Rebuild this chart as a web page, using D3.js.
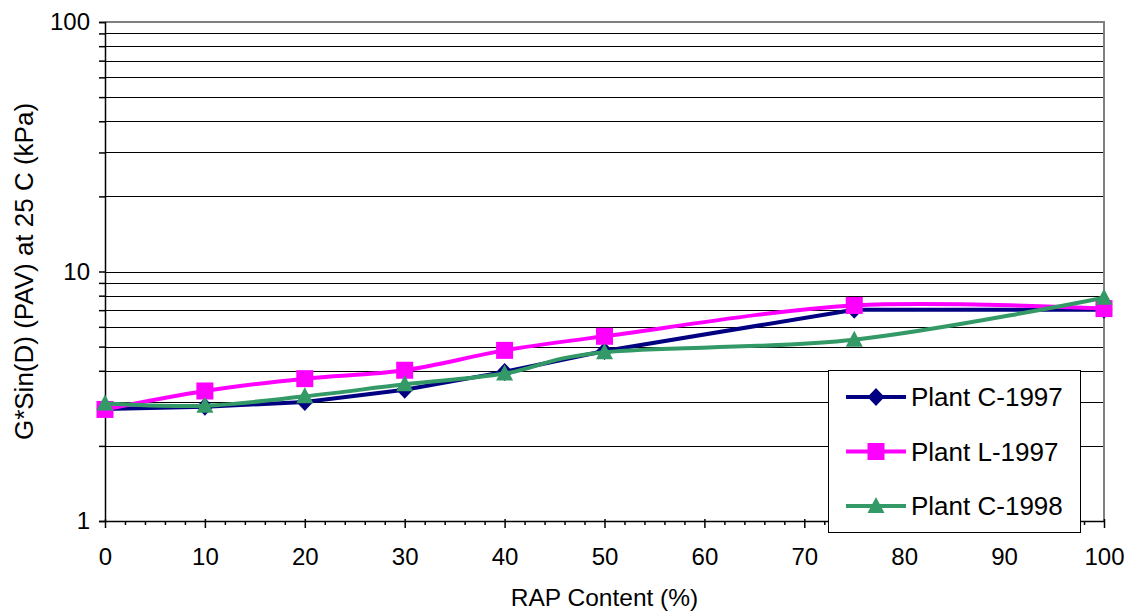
<!DOCTYPE html>
<html>
<head>
<meta charset="utf-8">
<script src="https://cdn.jsdelivr.net/npm/d3@7"></script>
<style>
  body { margin: 0; background: #fff; }
  text { font-family: "Liberation Sans", Arial, sans-serif; fill: #000; }
</style>
</head>
<body>
<div id="chart-area"></div>
<script>
// data
const rapContent = [0, 10, 20, 30, 40, 50, 75, 100];
const plantC1997 = [2.81, 2.87, 3.0, 3.36, 3.96, 4.8, 7.03, 7.03];
const plantL1997 = [2.8, 3.32, 3.72, 4.02, 4.83, 5.5, 7.31, 7.1];
const plantC1998 = [2.96, 2.9, 3.16, 3.53, 3.9, 4.75, 5.33, 7.85];
const seriesNames = ["Plant C-1997", "Plant L-1997", "Plant C-1998"];
const yTickLabels = [1, 10, 100];
const xTickLabels = [0, 10, 20, 30, 40, 50, 60, 70, 80, 90, 100];

const W = 1131, H = 615;
const svg = d3.select("#chart-area")
    .append("svg")
    .attr("width", W)
    .attr("height", H);

const x = d3.scaleLinear().domain([0, 100]).range([105, 1104]);
const y = d3.scaleLog().domain([1, 100]).range([521, 22]);

// gridlines at every minor value
const gridVals = [2, 3, 4, 5, 6, 7, 8, 9, 10, 20, 30, 40, 50, 60, 70, 80, 90];
svg.selectAll("line.grid")
    .data(gridVals)
    .enter().append("line")
    .attr("class", "grid")
    .attr("x1", x(0)).attr("x2", x(100))
    .attr("y1", d => Math.round(y(d)) + 0.5)
    .attr("y2", d => Math.round(y(d)) + 0.5)
    .attr("stroke", "#000")
    .attr("stroke-width", 1);

// plot border (top and right)
svg.append("path")
    .attr("d", `M${x(0)},${y(100)}H${x(100)}V${y(1)}`)
    .attr("fill", "none")
    .attr("stroke", "#808080")
    .attr("stroke-width", 2);

// y axis
const yAxis = d3.axisLeft(y)
    .tickValues([1].concat(gridVals, [100]))
    .tickSize(6)
    .tickFormat(d => yTickLabels.includes(d) ? d : "");
const gy = svg.append("g")
    .attr("transform", `translate(${x(0)},0)`)
    .call(yAxis);
gy.selectAll("text").attr("font-size", 24).attr("dx", -6);

// x axis: minor ticks every 2, major every 10
const minorX = d3.range(0, 101, 2).filter(d => d % 10 !== 0);
svg.append("g")
    .attr("transform", `translate(0,${y(1)})`)
    .call(d3.axisBottom(x).tickValues(minorX).tickSize(4).tickFormat(""))
    .select(".domain").remove();
const gx = svg.append("g")
    .attr("transform", `translate(0,${y(1)})`)
    .call(d3.axisBottom(x).tickValues(xTickLabels).tickSize(7).tickSizeOuter(0).tickPadding(20));
gx.selectAll(".tick line").attr("y1", -2);
gx.selectAll("text").attr("font-size", 24);

svg.selectAll(".domain, .tick line").attr("stroke", "#000").attr("stroke-width", 1.5);

// axis titles
svg.append("text")
    .attr("x", (x(0) + x(100)) / 2)
    .attr("y", 606)
    .attr("text-anchor", "middle")
    .attr("font-size", 24.5)
    .text("RAP Content (%)");
svg.append("text")
    .attr("transform", `translate(33,${(y(1) + y(100)) / 2}) rotate(-90)`)
    .attr("text-anchor", "middle")
    .attr("font-size", 26)
    .text("G*Sin(D) (PAV) at 25 C (kPa)");

const colors = ["#000080", "#FF00FF", "#339966"];
const markers = [
    "M0,-9L8.5,0L0,9L-8.5,0Z",
    "M-8.5,-8.5H8.5V8.5H-8.5Z",
    "M0,-9L8.5,7H-8.5Z"
];
const allSeries = [plantC1997, plantL1997, plantC1998];
// C-1997 is drawn straight, the other two smoothed
const curves = [d3.curveLinear, d3.curveCatmullRom.alpha(0), d3.curveCatmullRom.alpha(0)];

allSeries.forEach(function (vals, k) {
    const line = d3.line()
        .x((d, i) => x(rapContent[i]))
        .y(d => y(d))
        .curve(curves[k]);
    svg.append("path")
        .datum(vals)
        .attr("d", line)
        .attr("fill", "none")
        .attr("stroke", colors[k])
        .attr("stroke-width", 4)
        .attr("stroke-linejoin", "round");
    svg.selectAll("path.m" + k)
        .data(vals)
        .enter().append("path")
        .attr("class", "m" + k)
        .attr("transform", (d, i) => `translate(${x(rapContent[i])},${y(d)})`)
        .attr("d", markers[k])
        .attr("fill", colors[k]);
});

// legend
const legend = svg.append("g");
legend.append("rect")
    .attr("x", 828.5).attr("y", 370.5)
    .attr("width", 252).attr("height", 162)
    .attr("fill", "#fff")
    .attr("stroke", "#000")
    .attr("stroke-width", 1);
seriesNames.forEach(function (name, k) {
    const ly = 397 + k * 54.5;
    legend.append("line")
        .attr("x1", 846).attr("x2", 906)
        .attr("y1", ly).attr("y2", ly)
        .attr("stroke", colors[k])
        .attr("stroke-width", 4);
    legend.append("path")
        .attr("transform", `translate(876,${ly})`)
        .attr("d", markers[k])
        .attr("fill", colors[k]);
    legend.append("text")
        .attr("x", 911)
        .attr("y", ly + 9)
        .attr("font-size", 26)
        .text(name);
});
</script>
</body>
</html>
